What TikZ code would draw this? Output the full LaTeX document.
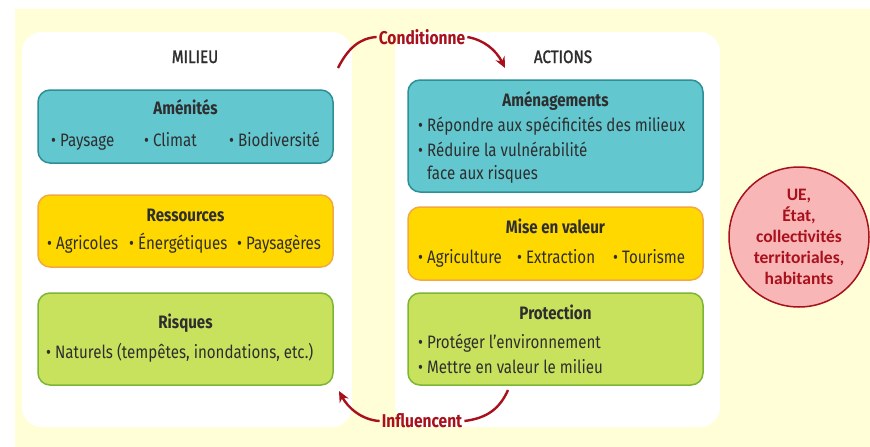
\documentclass[tikz,border=0pt]{standalone}
\usepackage{fontspec}
\setmainfont{Fira Sans}[FakeStretch=0.84]
\newfontfamily\medfont{Fira Sans}[FakeStretch=0.84, FakeBold=1.5]
\newfontfamily\carlito{Carlito}
\usetikzlibrary{arrows.meta}
\definecolor{bgyel}{HTML}{FFFED6}
\definecolor{tealf}{HTML}{63C7CF}
\definecolor{teald}{HTML}{2E8F96}
\definecolor{yelf}{HTML}{FFD800}
\definecolor{yeld}{HTML}{F4A940}
\definecolor{grnf}{HTML}{C9E25E}
\definecolor{grnd}{HTML}{7DB534}
\definecolor{dred}{HTML}{A8101C}
\definecolor{pinkf}{HTML}{F8B6B6}
\definecolor{txt}{HTML}{2E2E2E}
\tikzset{
  panel/.style={fill=white, rounded corners=20pt},
  cbox/.style={rounded corners=12pt, line width=1.5pt, minimum width=295pt, inner sep=0pt},
  tealbox/.style={cbox, fill=tealf, draw=teald},
  yelbox/.style={cbox, fill=yelf, draw=yeld},
  grnbox/.style={cbox, fill=grnf, draw=grnd},
  ttl/.style={font=\bfseries\fontsize{18}{20}\selectfont, text=txt, inner sep=0pt, anchor=base},
  hdr/.style={font=\medfont\fontsize{18}{20}\selectfont, text=txt, inner sep=0pt, anchor=base},
  itm/.style={font=\fontsize{18}{20}\selectfont, text=txt, inner sep=0pt, anchor=base west},
  lbl/.style={font=\bfseries\fontsize{18.5}{20}\selectfont, text=dred, inner sep=2pt},
  conn/.style={draw=dred, line width=2.4pt},
  tip/.style={-{Stealth[length=11pt,width=10pt]}}
}
\begin{document}
\begin{tikzpicture}[x=1pt,y=-1pt]
\useasboundingbox (0,0) rectangle (870,447);
\fill[white] (0,0) rectangle (870,447);
\fill[bgyel] (15,9) rectangle (870,447);
\fill[panel] (22,32) rectangle (352,427);
\fill[panel] (395,32) rectangle (720,427);

% headers
\node[hdr] (milieu) at (195,63) {MILIEU};
\node[hdr] (actions) at (563,63) {ACTIONS};

% left boxes
\node[tealbox, minimum height=73pt] (amen) at (185.5,126.5) {};
\node[ttl] (amenT) at (185.5,114) {Aménités};
\node[itm] (a1) at (51,146) {• Paysage};
\node[itm] (a2) at (144,146) {• Climat};
\node[itm] (a3) at (229,146) {• Biodiversité};

\node[yelbox, minimum height=72pt] (res) at (185.5,231) {};
\node[ttl] (resT) at (185.5,221) {Ressources};
\node[itm] (r1) at (47,249) {• Agricoles};
\node[itm] (r2) at (129,249) {• Énergétiques};
\node[itm] (r3) at (237,249) {• Paysagères};

\node[grnbox, minimum height=92pt] (ris) at (185.5,339) {};
\node[ttl] (risT) at (185.5,328) {Risques};
\node[itm] (k1) at (46,358) {• Naturels (tempêtes, inondations, etc.)};

% right boxes
\node[tealbox, minimum height=112pt] (amg) at (555.5,136) {};
\node[ttl] (amgT) at (555.5,106) {Aménagements};
\node[itm] (g1) at (418,131) {• Répondre aux spécificités des milieux};
\node[itm] (g2) at (418,156) {• Réduire la vulnérabilité};
\node[itm] (g3) at (427,179) {face aux risques};

\node[yelbox, minimum height=73pt] (mev) at (555.5,243.5) {};
\node[ttl] (mevT) at (555.5,233) {Mise en valeur};
\node[itm] (m1) at (418,263) {• Agriculture};
\node[itm] (m2) at (517,263) {• Extraction};
\node[itm] (m3) at (613,263) {• Tourisme};

\node[grnbox, minimum height=92pt] (pro) at (555.5,339) {};
\node[ttl] (proT) at (555.5,319) {Protection};
\node[itm] (p1) at (418,348) {• Protéger l’environnement};
\node[itm] (p2) at (418,373) {• Mettre en valeur le milieu};

% circle
\node[circle, draw=dred, fill=pinkf, line width=1.5pt, minimum size=140pt, inner sep=0pt,
      align=center, text=dred, font=\carlito\bfseries\fontsize{17.5}{21}\selectfont] (circ) at (799,237)
      {UE,\\État,\\collectivités\\territoriales,\\habitants};

% connectors
\node[lbl] (cond) at (422,37) {Conditionne};
\coordinate (cs) at (338,68);
\coordinate (ce) at (505,68);
\draw[conn] (cs) .. controls (348,48) and (360,38) .. (cond.west);
\draw[conn, tip] (cond.east) .. controls (484,40) and (496,50) .. (ce);

\node[lbl] (infl) at (422,421) {Influencent};
\coordinate (is) at (508,390);
\coordinate (ie) at (339,391);
\draw[conn] (is) .. controls (500,408) and (488,418) .. (infl.east);
\draw[conn, tip] (infl.west) .. controls (362,420) and (348,408) .. (ie);
\end{tikzpicture}
\end{document}
